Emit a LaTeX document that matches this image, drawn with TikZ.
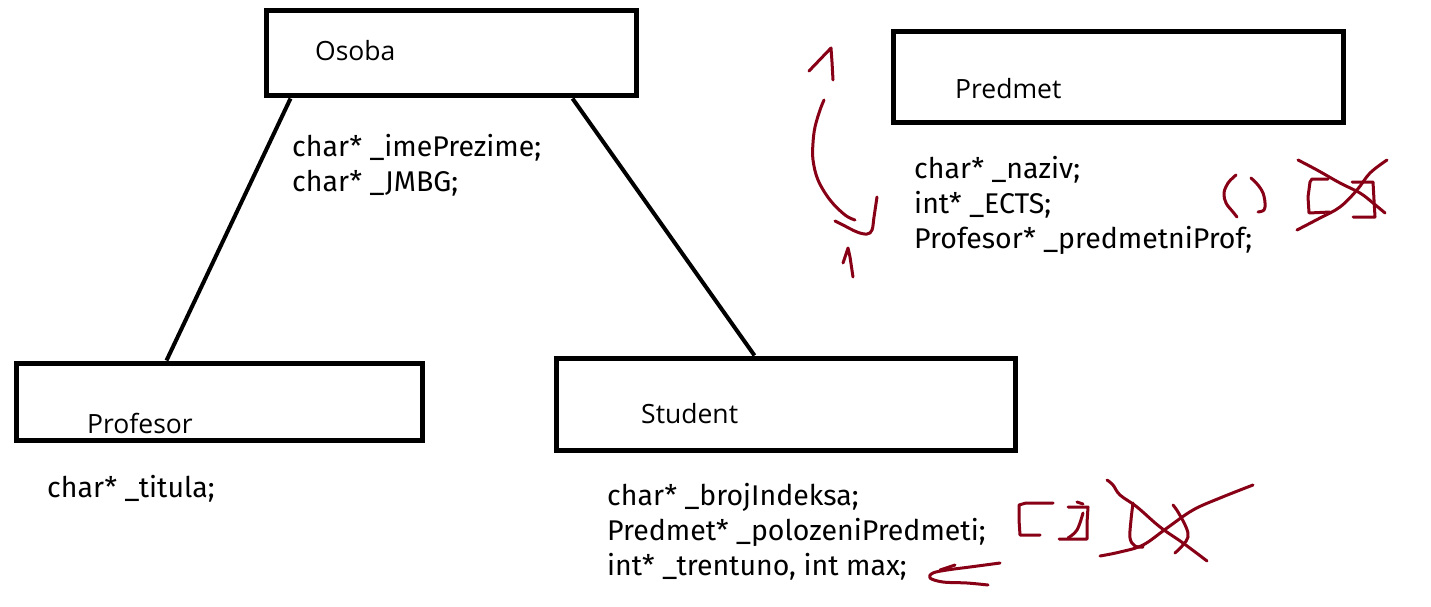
\documentclass[tikz,border=0pt]{standalone}
\usepackage{fontspec}
\setmainfont{Fira Sans}
\newfontfamily\titlefont{Open Sans}
\usetikzlibrary{calc}
\definecolor{ink}{RGB}{136,0,21}
\tikzset{
  box/.style={draw=black, line width=5pt, rectangle, inner sep=0pt, fill=none},
  conn/.style={draw=black, line width=4pt},
  ttl/.style={anchor=base west, inner sep=0pt, font=\titlefont\fontsize{26.5}{30}\selectfont},
  body/.style={anchor=north west, inner sep=0pt, align=left, font=\fontsize{28.5}{35}\selectfont},
  pen/.style={draw=ink, line width=3pt, line cap=round, line join=round},
}
\begin{document}
\begin{tikzpicture}[x=1pt,y=-1pt]
\useasboundingbox[fill=white] (0,0) rectangle (1431,607);
% boxes
\node[box, minimum width=370pt, minimum height=85pt] (osoba) at (451,53.5) {};
\node[box, minimum width=450pt, minimum height=91pt] (predmet) at (1118,77.5) {};
\node[box, minimum width=406pt, minimum height=77pt] (profesor) at (219,401.5) {};
\node[box, minimum width=459pt, minimum height=92pt] (student) at (785.5,404) {};
% titles
\node[ttl] (tosoba) at (315,61) {Osoba};
\node[ttl] (tpredmet) at (955,99) {Predmet};
\node[ttl] (tprofesor) at (87,433) {Profesor};
\node[ttl] (tstudent) at (641,423) {Student};
% connectors
\draw[conn] ([xshift=27pt]osoba.south west) -- ([xshift=153pt]profesor.north west);
\draw[conn] ([xshift=309pt]osoba.south west) -- ([xshift=201pt]student.north west);
% attributes
\node[body] (aosoba) at (292,134) {char* \_imePrezime;\\char* \_JMBG;};
\node[body] (apredmet) at (914,156) {char* \_naziv;\\int* \_ECTS;\\Profesor* \_predmetniProf;};
\node[body] (aprofesor) at (47,475) {char* \_titula;};
\node[body] (astudent) at (607,483) {char* \_brojIndeksa;\\Predmet* \_polozeniPredmeti;\\int* \_trentuno, int max;};
% red marks near Predmet
\draw[pen] (809,71) -- (831,48) -- (832,62) -- (833,80);
\draw[pen] plot[smooth, tension=0.6] coordinates {(824,100) (820,110) (815,127) (813,143) (813,160) (818,180) (830,200) (845,215) (855,220)};
\draw[pen] plot[smooth, tension=0.6] coordinates {(835,221) (843,225) (857,232) (867,234) (872,230) (874,217) (877,197)};
\draw[pen] (843,263) -- (848,248) -- (850,257) -- (853,277);
\draw[pen] plot[smooth, tension=0.6] coordinates {(1236,175) (1228,183) (1224,193) (1226,203) (1233,212) (1237,217)};
\draw[pen] plot[smooth, tension=0.6] coordinates {(1251,178) (1258,185) (1263,193) (1265,203) (1264,210) (1258,212)};
\draw[pen] (1328,179) -- (1312,179) -- (1310,182) -- (1308,197) -- (1309,213) -- (1330,212);
\draw[pen] (1352,182) -- (1373,182) -- (1374,200) -- (1375,217) -- (1353,217);
\draw[pen] plot[smooth, tension=0.6] coordinates {(1298,160) (1317,170) (1340,183) (1360,193) (1373,203) (1385,213)};
\draw[pen] plot[smooth, tension=0.6] coordinates {(1297,230) (1320,218) (1340,207) (1357,190) (1370,173) (1387,160)};
% red marks near Student
\draw[pen] (1053,503) -- (1026,503) -- (1019,505) -- (1019,520) -- (1020,535) -- (1040,535);
\draw[pen] (1068,507) -- (1088,507) -- (1087,523) -- (1087,539) -- (1059,539);
\draw[pen] (1077,502) -- (1083,504);
\draw[pen] plot[smooth, tension=0.6] coordinates {(1083,513) (1077,530) (1068,538)};
\draw[pen] plot[smooth, tension=0.6] coordinates {(1107,480) (1113,485) (1120,495) (1137,507) (1160,527) (1183,543) (1207,561)};
\draw[pen] plot[smooth, tension=0.6] coordinates {(1100,556) (1120,552) (1143,545) (1167,528) (1193,510) (1220,498) (1253,485)};
\draw[pen] plot[smooth, tension=0.6] coordinates {(1133,503) (1131,520) (1130,538) (1135,546) (1143,547)};
\draw[pen] plot[smooth, tension=0.6] coordinates {(1173,505) (1178,512) (1186,527) (1188,537) (1183,545) (1175,553)};
\draw[pen] plot[smooth, tension=0.6] coordinates {(1000,563) (970,567) (947,570) (933,573) (930,578) (943,582) (967,583) (988,585)};
\draw[pen] (955,565) -- (940,570);
\end{tikzpicture}
\end{document}
